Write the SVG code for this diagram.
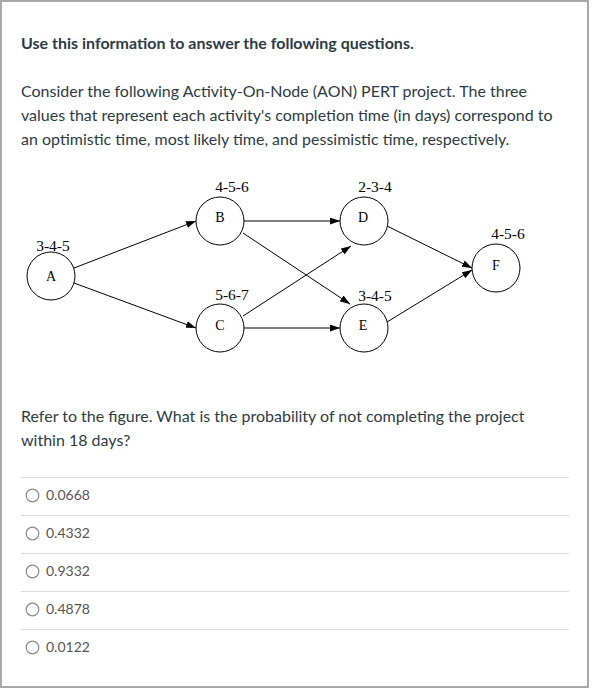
<svg xmlns="http://www.w3.org/2000/svg" width="594" height="690" viewBox="0 0 594 690">
<style>
.t{font-family:Lato,"Open Sans","Liberation Sans",sans-serif;fill:#2d3b45}
.title{font-size:16px;font-weight:bold}
.body{font-size:16px}
.opt{font-family:Lato,"Liberation Sans",sans-serif;font-size:14px;fill:#555}
.sep{stroke:#dcdcdc;stroke-width:1}
.radio{fill:#fff;stroke:#8a8a8a;stroke-width:1.2}
.node circle{fill:#fff;stroke:#000;stroke-width:1}
.lt{font-family:"Liberation Serif","Times New Roman",serif;font-size:14px;fill:#000;text-anchor:middle}
.lb{font-size:15.5px}
.edge{stroke:#000;stroke-width:1;fill:none;marker-end:url(#ah)}
</style>
<defs>
<marker id="ah" markerUnits="userSpaceOnUse" markerWidth="10" markerHeight="8" refX="10" refY="3.5" orient="auto">
<path d="M0,0 L10,3.5 L0,7 z" fill="#000"/>
</marker>
</defs>
<rect x="0" y="0" width="594" height="690" fill="#fff"/>
<rect x="1" y="1" width="587" height="686" fill="none" stroke="#a8a8a8" stroke-width="2"/>
<text class="t title" x="21" y="49">Use this information to answer the following questions.</text>
<text class="t body" x="21" y="97">Consider the following Activity-On-Node (AON) PERT project. The three</text>
<text class="t body" x="21" y="121">values that represent each activity's completion time (in days) correspond to</text>
<text class="t body" x="21" y="145">an optimistic time, most likely time, and pessimistic time, respectively.</text>
<g id="connectors">
<line class="edge" x1="74" y1="268" x2="196" y2="221"/>
<line class="edge" x1="74" y1="283" x2="196" y2="328"/>
<line class="edge" x1="244" y1="221" x2="340" y2="221"/>
<line class="edge" x1="243" y1="233" x2="350" y2="304"/>
<line class="edge" x1="243" y1="316" x2="351" y2="246"/>
<line class="edge" x1="244" y1="328" x2="340" y2="328"/>
<line class="edge" x1="387" y1="226" x2="472" y2="268"/>
<line class="edge" x1="387" y1="322" x2="472" y2="270"/>
</g>
<g id="node-A" class="node"><circle cx="51" cy="276" r="24"/><text class="lt" x="51" y="281">A</text><text class="lt lb" x="53" y="251">3-4-5</text></g>
<g id="node-B" class="node"><circle cx="220" cy="221" r="24"/><text class="lt" x="220" y="222">B</text><text class="lt lb" x="232" y="192">4-5-6</text></g>
<g id="node-C" class="node"><circle cx="220" cy="328" r="24"/><text class="lt" x="220" y="330">C</text><text class="lt lb" x="232" y="300">5-6-7</text></g>
<g id="node-D" class="node"><circle cx="364" cy="221" r="24"/><text class="lt" x="363" y="222">D</text><text class="lt lb" x="375" y="192">2-3-4</text></g>
<g id="node-E" class="node"><circle cx="364" cy="328" r="24"/><text class="lt" x="363" y="330">E</text><text class="lt lb" x="375" y="301">3-4-5</text></g>
<g id="node-F" class="node"><circle cx="496" cy="268" r="24"/><text class="lt" x="496" y="270">F</text><text class="lt lb" x="508" y="239">4-5-6</text></g>
<text class="t body" x="21" y="422">Refer to the figure. What is the probability of not completing the project</text>
<text class="t body" x="21" y="446">within 18 days?</text>
<line class="sep" x1="21" y1="477.5" x2="569" y2="477.5"/>
<line class="sep" x1="21" y1="515.5" x2="569" y2="515.5"/>
<line class="sep" x1="21" y1="553.5" x2="569" y2="553.5"/>
<line class="sep" x1="21" y1="591.5" x2="569" y2="591.5"/>
<line class="sep" x1="21" y1="629.5" x2="569" y2="629.5"/>
<circle class="radio" cx="32.5" cy="495.5" r="6.3"/>
<text class="opt" x="46" y="500">0.0668</text>
<circle class="radio" cx="32.5" cy="533.5" r="6.3"/>
<text class="opt" x="46" y="538">0.4332</text>
<circle class="radio" cx="32.5" cy="571.5" r="6.3"/>
<text class="opt" x="46" y="576">0.9332</text>
<circle class="radio" cx="32.5" cy="609.5" r="6.3"/>
<text class="opt" x="46" y="614">0.4878</text>
<circle class="radio" cx="32.5" cy="647.5" r="6.3"/>
<text class="opt" x="46" y="652">0.0122</text>
</svg>
